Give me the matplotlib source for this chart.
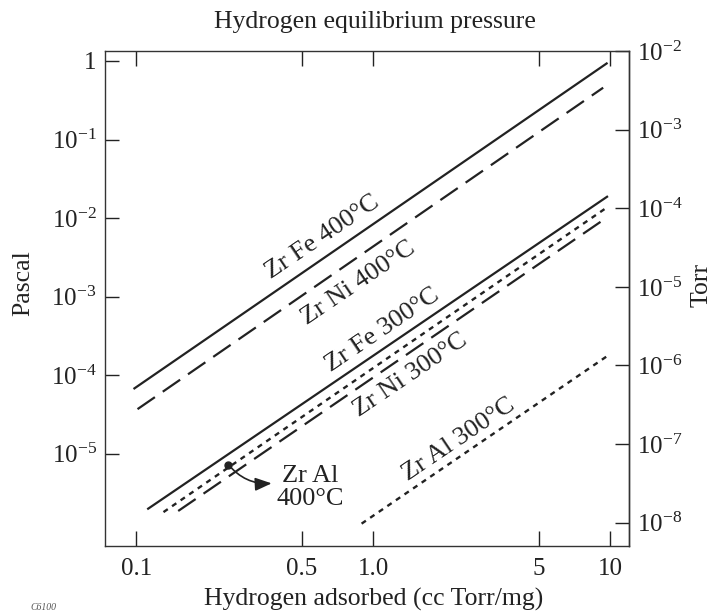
import numpy as np
import matplotlib.pyplot as plt

plt.rcParams['font.family'] = ['Liberation Serif', 'DejaVu Serif']
plt.rcParams['mathtext.fontset'] = 'custom'
plt.rcParams['mathtext.rm'] = 'Liberation Serif'
plt.rcParams['mathtext.it'] = 'Liberation Serif:italic'

# hydrogen adsorbed (cc Torr/mg), start and end of each isotherm
fe400_x = [0.098, 9.66]
fe400_p = [6.8e-5, 0.93]
ni400_x = [0.101, 9.34]
ni400_p = [3.7e-5, 0.457]
fe300_x = [0.112, 9.7]
fe300_p = [2.0e-6, 1.87e-2]
al400_x = [0.130, 9.56]
al400_p = [1.81e-6, 1.33e-2]
ni300_x = [0.150, 9.22]
ni300_p = [1.87e-6, 9.2e-3]
al300_x = [0.892, 9.97]
al300_p = [1.29e-6, 1.85e-4]

xticks = [0.1, 0.5, 1, 5, 10]
xticklabels = ['0.1', '0.5', '1.0', '5', '10']
pa_ticks = [1e-5, 1e-4, 1e-3, 1e-2, 1e-1, 1]
pa_labels = ['10$^{-5}$', '10$^{-4}$', '10$^{-3}$', '10$^{-2}$', '10$^{-1}$', '1']
torr_ticks = [1e-8, 1e-7, 1e-6, 1e-5, 1e-4, 1e-3, 1e-2]
torr_labels = ['10$^{-%d}$' % k for k in [8, 7, 6, 5, 4, 3, 2]]
PA_PER_TORR = 133.3

ink = '#222222'
long_dash = (0, (9.5, 4.3))
short_dash = (0, (2.2, 2.2))

fig = plt.figure(figsize=(7.17, 6.13), dpi=100)
ax = fig.add_axes([0.1464, 0.1093, 0.7308, 0.8075])
ax.set_xscale('log')
ax.set_yscale('log')
ax.set_xlim(0.0736, 12.0)
ax.set_ylim(6.7e-7, 1.34)

ax.plot(fe400_x, fe400_p, color=ink, lw=1.6)
ax.plot(ni400_x, ni400_p, color=ink, lw=1.6, linestyle=long_dash)
ax.plot(fe300_x, fe300_p, color=ink, lw=1.6)
ax.plot(al400_x, al400_p, color=ink, lw=1.7, linestyle=short_dash)
ax.plot(ni300_x, ni300_p, color=ink, lw=1.6, linestyle=long_dash)
ax.plot(al300_x, al300_p, color=ink, lw=1.7, linestyle=short_dash)

lab = dict(fontsize=19, color=ink, rotation=34, ha='center', va='center',
           rotation_mode='anchor')
ax.text(0.607, 5.7e-3, 'Zr Fe 400°C', **lab)
ax.text(0.861, 1.49e-3, 'Zr Ni 400°C', **lab)
ax.text(1.087, 3.7e-4, 'Zr Fe 300°C', **lab)
ax.text(1.427, 1.0e-4, 'Zr Ni 300°C', **lab)
ax.text(2.30, 1.53e-5, 'Zr Al 300°C', **lab)

# Zr Al 400°C callout
ax.plot([0.244], [7.3e-6], 'o', color=ink, ms=5)
ax.annotate('', xy=(0.372, 4.2e-6), xytext=(0.244, 7.3e-6),
            arrowprops=dict(arrowstyle='-|>,head_length=1.0,head_width=0.4',
                            color=ink, lw=1.2, shrinkA=0, shrinkB=0,
                            connectionstyle='arc3,rad=0.25'))
ax.text(0.54, 3.75e-6, 'Zr Al\n400°C', fontsize=19, color=ink,
        ha='center', va='center', linespacing=1.05)

ax.minorticks_off()
ax.set_xticks(xticks)
ax.set_xticklabels(xticklabels)
ax.set_yticks(pa_ticks)
ax.set_yticklabels(pa_labels)
ax.tick_params(axis='x', direction='in', length=10.5, width=1.0, top=True,
               labelsize=18, pad=9, colors=ink)
ax.tick_params(axis='y', direction='in', length=10, width=1.0,
               labelsize=18, pad=6, colors=ink)
for s in ax.spines.values():
    s.set_linewidth(1.0)
    s.set_color('#333333')

sec = ax.secondary_yaxis('right', functions=(lambda p: p / PA_PER_TORR,
                                             lambda t: t * PA_PER_TORR))
sec.set_yticks(torr_ticks)
sec.set_yticklabels(torr_labels)
sec.minorticks_off()
sec.tick_params(direction='in', length=10, width=1.0, labelsize=18, pad=6,
                colors=ink)
sec.spines['right'].set_linewidth(1.0)
sec.spines['right'].set_color('#333333')

fig.text(375 / 717, 1 - 22 / 613, 'Hydrogen equilibrium pressure',
         fontsize=18.5, color=ink, ha='center', va='center')
fig.text(374 / 717, 1 - 599 / 613, 'Hydrogen adsorbed (cc Torr/mg)',
         fontsize=18.5, color=ink, ha='center', va='center')
fig.text(23 / 717, 1 - 283 / 613, 'Pascal', fontsize=18.5, color=ink,
         rotation=90, ha='center', va='center')
fig.text(702 / 717, 1 - 285 / 613, 'Torr', fontsize=18.5, color=ink,
         rotation=90, ha='center', va='center')
fig.text(30 / 717, 1 - 603 / 613, 'C6100', fontsize=7, style='italic',
         color='#555555', ha='left', va='top')

fig.savefig('out.png', dpi=100)
